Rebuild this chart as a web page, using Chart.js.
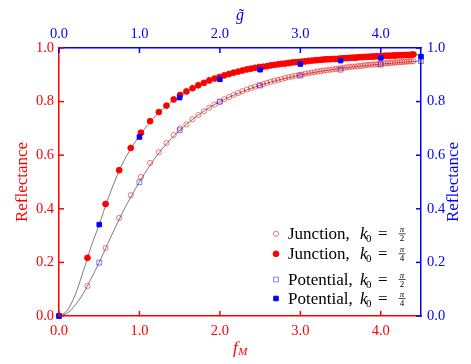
<!DOCTYPE html>
<html>
<head>
<meta charset="utf-8">
<script src="https://cdn.jsdelivr.net/npm/chart.js@4.4.1/dist/chart.umd.min.js"></script>
<style>
    html, body { margin: 0; padding: 0; background: #fff; }
    canvas { display: block; }
</style>
</head>
<body>
<canvas id="grafica" width="471" height="364"></canvas>
<script>
//--------Datos
//Junction (eje inferior f_M, eje izquierdo)
const fM = [0.354, 0.579, 0.748, 0.892, 1.019, 1.133, 1.241, 1.336, 1.426, 1.505,
    1.584, 1.660, 1.732, 1.801, 1.868, 1.933, 1.995, 2.055, 2.114, 2.171,
    2.227, 2.281, 2.335, 2.386, 2.437, 2.487, 2.536, 2.584, 2.631, 2.677,
    2.722, 2.767, 2.811, 2.854, 2.897, 2.939, 2.980, 3.021, 3.061, 3.101,
    3.140, 3.179, 3.217, 3.255, 3.292, 3.329, 3.366, 3.402, 3.438, 3.473,
    3.509, 3.543, 3.578, 3.612, 3.646, 3.679, 3.712, 3.745, 3.778, 3.810,
    3.842, 3.874, 3.905, 3.936, 3.967, 3.998, 4.029, 4.059, 4.089, 4.119,
    4.149, 4.178, 4.207, 4.236, 4.265, 4.294, 4.322, 4.350, 4.378, 4.406]
const junctionMedioPi = [0.112, 0.254, 0.366, 0.451, 0.519, 0.571, 0.611, 0.646, 0.675, 0.700,
    0.715, 0.734, 0.750, 0.764, 0.777, 0.789, 0.799, 0.809, 0.817, 0.825,
    0.832, 0.839, 0.845, 0.851, 0.856, 0.861, 0.865, 0.870, 0.874, 0.878,
    0.881, 0.884, 0.888, 0.891, 0.894, 0.896, 0.899, 0.901, 0.904, 0.906,
    0.908, 0.910, 0.912, 0.914, 0.916, 0.917, 0.919, 0.920, 0.922, 0.923,
    0.925, 0.926, 0.928, 0.929, 0.930, 0.931, 0.932, 0.933, 0.934, 0.936,
    0.937, 0.938, 0.938, 0.939, 0.940, 0.941, 0.942, 0.943, 0.944, 0.944,
    0.945, 0.946, 0.947, 0.947, 0.948, 0.949, 0.949, 0.950, 0.950, 0.951]
const junctionCuartoPi = [0.217, 0.418, 0.544, 0.627, 0.684, 0.727, 0.761, 0.785, 0.808, 0.825,
    0.838, 0.850, 0.861, 0.870, 0.879, 0.886, 0.892, 0.898, 0.903, 0.908,
    0.912, 0.916, 0.920, 0.923, 0.926, 0.929, 0.930, 0.932, 0.935, 0.937,
    0.939, 0.941, 0.942, 0.944, 0.946, 0.947, 0.948, 0.949, 0.950, 0.952,
    0.953, 0.954, 0.955, 0.956, 0.957, 0.958, 0.958, 0.959, 0.959, 0.960,
    0.961, 0.962, 0.962, 0.963, 0.964, 0.964, 0.965, 0.966, 0.966, 0.967,
    0.967, 0.968, 0.968, 0.969, 0.969, 0.970, 0.970, 0.971, 0.971, 0.971,
    0.972, 0.972, 0.973, 0.973, 0.973, 0.974, 0.974, 0.974, 0.975, 0.976]

//Potential (eje superior g~, eje derecho)
const gTilde = [0, 0.5, 1.0, 1.5, 2.0, 2.5, 3.0, 3.5, 4.0, 4.5]
const potentialMedioPi = [0, 0.199, 0.499, 0.693, 0.800, 0.860, 0.897, 0.919, 0.938, 0.951]
const potentialCuartoPi = [0, 0.341, 0.668, 0.815, 0.883, 0.919, 0.940, 0.953, 0.963, 0.968]

//Curvas grises (teoria)
const curvaX = [0, 0.1, 0.2, 0.3, 0.4, 0.5, 0.6, 0.8, 1.0, 1.25, 1.5, 1.75, 2.0, 2.5, 3.0, 3.5, 4.0, 4.5]
const curvaMedioPi = [0, 0.010, 0.040, 0.083, 0.140, 0.200, 0.266, 0.392, 0.500, 0.612, 0.693, 0.754, 0.800, 0.861, 0.899, 0.924, 0.940, 0.952]
const curvaCuartoPi = [0, 0.020, 0.078, 0.165, 0.260, 0.341, 0.430, 0.575, 0.672, 0.762, 0.820, 0.862, 0.890, 0.926, 0.946, 0.960, 0.969, 0.975]

//Ticks
const xTicks = [0, 1, 2, 3, 4]
const yTicks = [0, 0.2, 0.4, 0.6, 0.8, 1.0]

//Textos
const tituloY = "Reflectance"
const leyendaNombres = ["Junction", "Junction", "Potential", "Potential"]
const leyendaDenominador = ["2", "4", "2", "4"]

const ROJO = "#ff0000"
const AZUL = "#0000ff"
const FUENTE = '"Liberation Serif", "Times New Roman", serif'

//Estilos de marcas (tambien para la leyenda)
const estiloMedioPiJ = {pointStyle: "circle", radius: 2.6, bg: "rgba(255,255,255,0)", borde: "rgba(255,0,0,0.55)", ancho: 1}
const estiloCuartoPiJ = {pointStyle: "circle", radius: 2.9, bg: ROJO, borde: ROJO, ancho: 1}
const estiloMedioPiP = {pointStyle: "rect", radius: 3.4, bg: "rgba(255,255,255,0)", borde: "rgba(0,0,255,0.5)", ancho: 1}
const estiloCuartoPiP = {pointStyle: "rect", radius: 3.2, bg: AZUL, borde: AZUL, ancho: 1}
const estilosLeyenda = [estiloMedioPiJ, estiloCuartoPiJ, estiloMedioPiP, estiloCuartoPiP]

function puntos(xs, ys) {
    return xs.map((x, i) => ({x: x, y: ys[i]}))
}

function datasetPuntos(xs, ys, estilo, ejeX, ejeY, orden) {
    return {
        data: puntos(xs, ys),
        xAxisID: ejeX,
        yAxisID: ejeY,
        showLine: false,
        pointStyle: estilo.pointStyle,
        pointRadius: estilo.radius,
        pointBackgroundColor: estilo.bg,
        pointBorderColor: estilo.borde,
        pointBorderWidth: estilo.ancho,
        clip: false,
        order: orden
    }
}

function datasetCurva(ys, orden) {
    return {
        data: puntos(curvaX, ys),
        xAxisID: "x",
        yAxisID: "y",
        showLine: true,
        borderColor: "#7a7a7a",
        borderWidth: 1,
        pointRadius: 0,
        cubicInterpolationMode: "monotone",
        order: orden
    }
}

function linea(ctx, x1, y1, x2, y2) {
    ctx.beginPath()
    ctx.moveTo(x1, y1)
    ctx.lineTo(x2, y2)
    ctx.stroke()
}

//----Plugin: ticks hacia dentro, titulos y leyenda
const pluginEjes = {
    id: "ejes",
    afterDraw(chart) {
        const ctx = chart.ctx
        const area = chart.chartArea
        const s = chart.scales
        const largo = 5

        ctx.save()
        ctx.lineWidth = 1.5

        ctx.strokeStyle = ROJO
        xTicks.forEach(v => {
            const px = s.x.getPixelForValue(v)
            linea(ctx, px, area.bottom, px, area.bottom - largo)
        })
        yTicks.forEach(v => {
            const py = s.y.getPixelForValue(v)
            linea(ctx, area.left, py, area.left + largo, py)
        })

        ctx.strokeStyle = AZUL
        xTicks.forEach(v => {
            const px = s.x2.getPixelForValue(v)
            linea(ctx, px, area.top, px, area.top + largo)
        })
        yTicks.forEach(v => {
            const py = s.y2.getPixelForValue(v)
            linea(ctx, area.right, py, area.right - largo, py)
        })

        //Titulos de los ejes
        const centroX = (area.left + area.right) / 2
        const centroY = (area.top + area.bottom) / 2
        ctx.textBaseline = "alphabetic"

        //f_M
        ctx.fillStyle = ROJO
        ctx.font = "italic 17px " + FUENTE
        const anchoF = ctx.measureText("f").width
        ctx.font = "italic 11px " + FUENTE
        const anchoM = ctx.measureText("M").width
        const inicioF = centroX - (anchoF + anchoM) / 2
        ctx.textAlign = "left"
        ctx.font = "italic 17px " + FUENTE
        ctx.fillText("f", inicioF, 352.5)
        ctx.font = "italic 11px " + FUENTE
        ctx.fillText("M", inicioF + anchoF + 0.5, 355)

        //g~
        ctx.fillStyle = AZUL
        ctx.textAlign = "center"
        ctx.font = "italic 16px " + FUENTE
        ctx.fillText("g\u0303", centroX, 19.5)

        //Reflectance izquierda y derecha
        ctx.font = "17px " + FUENTE
        ctx.textBaseline = "middle"
        ctx.fillStyle = ROJO
        ctx.save()
        ctx.translate(22.5, centroY)
        ctx.rotate(-Math.PI / 2)
        ctx.fillText(tituloY, 0, 0)
        ctx.restore()

        ctx.fillStyle = AZUL
        ctx.save()
        ctx.translate(453.5, centroY)
        ctx.rotate(-Math.PI / 2)
        ctx.fillText(tituloY, 0, 0)
        ctx.restore()

        dibujarLeyenda(ctx)
        ctx.restore()
    }
}

function dibujarLeyenda(ctx) {
    const xMarca = 276
    const xTexto = 288
    const bases = [239.3, 259.3, 285, 304]

    leyendaNombres.forEach((nombre, i) => {
        const base = bases[i]
        const estilo = estilosLeyenda[i]

        ctx.save()
        ctx.fillStyle = estilo.bg
        ctx.strokeStyle = estilo.borde
        ctx.lineWidth = estilo.ancho
        Chart.helpers.drawPoint(ctx, {pointStyle: estilo.pointStyle, radius: estilo.radius, rotation: 0, borderWidth: estilo.ancho}, xMarca, base - 5.5)
        ctx.restore()

        ctx.fillStyle = "#000"
        ctx.textAlign = "left"
        ctx.textBaseline = "alphabetic"
        ctx.font = "17px " + FUENTE
        ctx.fillText(nombre + ",", xTexto, base)
        ctx.font = "italic 17px " + FUENTE
        ctx.fillText("k", xTexto + 72, base)
        ctx.font = "11px " + FUENTE
        ctx.fillText("0", xTexto + 78, base + 3)
        ctx.font = "17px " + FUENTE
        ctx.fillText("=", xTexto + 90, base)

        //Fraccion pi / n
        const xf = xTexto + 114
        ctx.textAlign = "center"
        ctx.font = "italic 9px " + FUENTE
        ctx.fillText("\u03c0", xf, base - 7)
        ctx.font = "9px " + FUENTE
        ctx.fillText(leyendaDenominador[i], xf, base + 1.5)
        ctx.strokeStyle = "#000"
        ctx.lineWidth = 0.7
        linea(ctx, xf - 3.5, base - 5.5, xf + 3.5, base - 5.5)
    })
}

function ejeOpciones(posicion, color, tamaño, valoresTicks, padding) {
    return {
        type: "linear",
        position: posicion,
        min: 0,
        max: (posicion == "top" || posicion == "bottom") ? 4.5 : 1,
        afterBuildTicks: eje => { eje.ticks = valoresTicks.map(v => ({value: v})) },
        afterFit: eje => {
            if (posicion == "top" || posicion == "bottom") {
                eje.height = tamaño
            } else {
                eje.width = tamaño
            }
        },
        ticks: {
            color: color,
            font: {family: FUENTE, size: 14.5},
            padding: padding,
            maxRotation: 0,
            autoSkip: false,
            callback: v => Number(v).toFixed(1)
        },
        grid: {display: false, drawTicks: false},
        border: {display: true, color: color, width: 1.5}
    }
}

window.onload = () => {
    const canvaGrafica = document.getElementById("grafica")

    new Chart(canvaGrafica, {
        type: "scatter",
        data: {
            datasets: [
                datasetCurva(curvaMedioPi, 6),
                datasetCurva(curvaCuartoPi, 6),
                datasetPuntos(fM, junctionMedioPi, estiloMedioPiJ, "x", "y", 5),
                datasetPuntos(fM, junctionCuartoPi, estiloCuartoPiJ, "x", "y", 4),
                datasetPuntos(gTilde, potentialMedioPi, estiloMedioPiP, "x2", "y2", 3),
                datasetPuntos(gTilde, potentialCuartoPi, estiloCuartoPiP, "x2", "y2", 2)
            ]
        },
        options: {
            responsive: false,
            animation: false,
            layout: {padding: 0},
            plugins: {
                legend: {display: false},
                tooltip: {enabled: false}
            },
            scales: {
                x: ejeOpciones("bottom", ROJO, 48, xTicks, 6),
                x2: ejeOpciones("top", AZUL, 48, xTicks, 5),
                y: ejeOpciones("left", ROJO, 59, yTicks, 5),
                y2: ejeOpciones("right", AZUL, 50, yTicks, 6)
            }
        },
        plugins: [pluginEjes]
    })
}
</script>
</body>
</html>
